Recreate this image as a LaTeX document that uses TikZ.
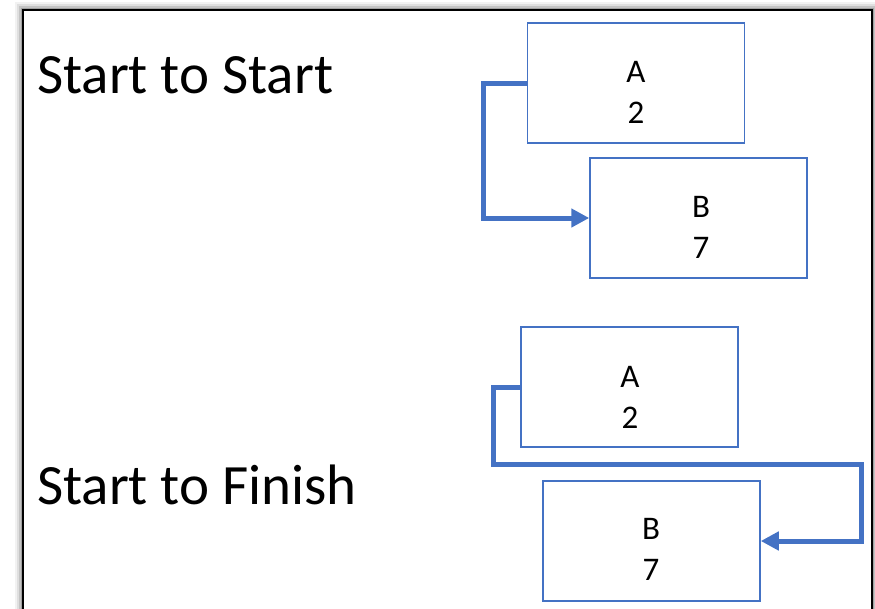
\documentclass[tikz,border=0pt]{standalone}
\usepackage{fontspec}
\setmainfont{Carlito}
\usetikzlibrary{arrows.meta}
\definecolor{boxblue}{HTML}{4472C4}
\tikzset{
  taskbox/.style={draw=boxblue, line width=1.5pt, minimum width=217pt, minimum height=120pt, inner sep=0pt},
  lbl/.style={align=center, font=\fontsize{33}{41}\selectfont, inner sep=0pt},
  bigtxt/.style={font=\fontsize{57}{62}\selectfont, inner sep=0pt, anchor=base west},
  link/.style={draw=boxblue, line width=5pt, -{Triangle[length=18pt,width=18pt]}}
}
\begin{document}
\begin{tikzpicture}[x=1pt,y=-1pt]
\useasboundingbox (0,0) rectangle (875,608);
% shadow of frame
\foreach \d/\o in {8/0.05,6/0.08,4/0.12,2/0.18}{
  \fill[black,opacity=\o] (23-\d,10-\d) rectangle (872+\d,620);
}
\fill[white] (23,10) rectangle (872,620);
\draw[black, line width=2pt] (23,10) rectangle (872,620);
% labels
\node[bigtxt] (t1) at (37,93) {Start to Start};
\node[bigtxt] (t2) at (37,504) {Start to Finish};
% boxes
\node[taskbox] (A1) at (636,83) {};
\node[taskbox] (B1) at (698.5,218) {};
\node[taskbox] (A2) at (629.5,387) {};
\node[taskbox] (B2) at (651.5,541) {};
\node[lbl] (A1l) at (636,92) {A\\2};
\node[lbl] (B1l) at (701,227) {B\\7};
\node[lbl] (A2l) at (630,397) {A\\2};
\node[lbl] (B2l) at (651,549) {B\\7};
% connectors
\coordinate (c1a) at (483,83);
\coordinate (c1b) at (483,218);
\draw[link] (A1.west) -- (c1a) -- (c1b) -- (B1.west);
\coordinate (c2a) at (493,387);
\coordinate (c2b) at (493,464);
\coordinate (c2c) at (861,464);
\coordinate (c2d) at (861,541);
\draw[link] (A2.west) -- (c2a) -- (c2b) -- (c2c) -- (c2d) -- (B2.east);
\end{tikzpicture}
\end{document}
